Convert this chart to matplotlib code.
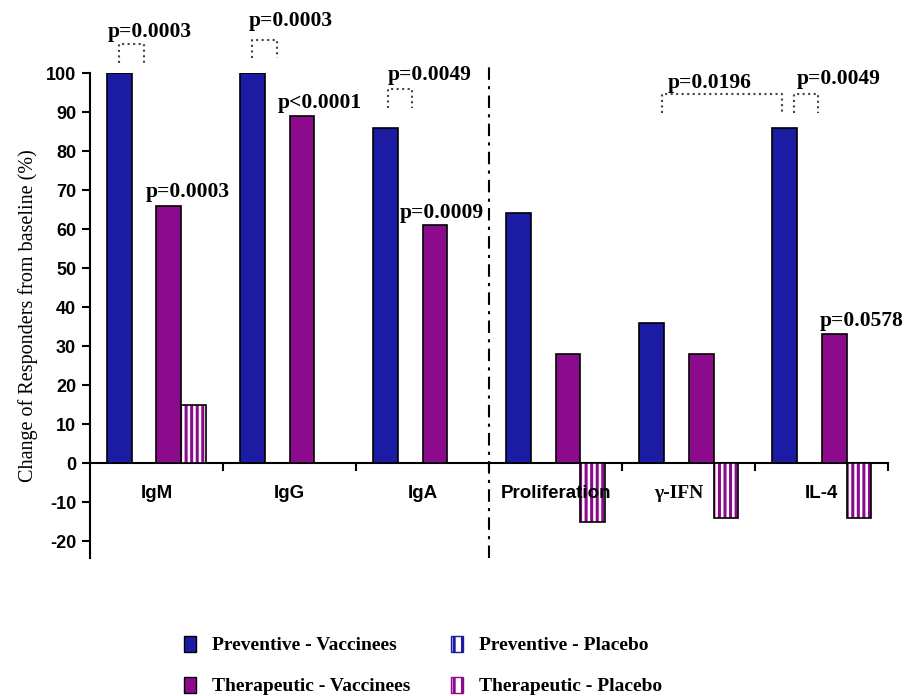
import matplotlib
matplotlib.use("Agg")
import matplotlib.pyplot as plt
from matplotlib.patches import Patch
import numpy as np

categories = ["IgM", "IgG", "IgA", "Proliferation", "γ-IFN", "IL-4"]
preventive_vaccinees = [100, 100, 86, 64, 36, 86]
preventive_placebo = [0, 0, 0, 0, 0, 0]
therapeutic_vaccinees = [66, 89, 61, 28, 28, 33]
therapeutic_placebo = [15, 0, 0, -15, -14, -14]
series_labels = ["Preventive - Vaccinees", "Preventive - Placebo",
                 "Therapeutic - Vaccinees", "Therapeutic - Placebo"]
yticks = list(range(-20, 101, 10))

# p-value annotations: text, text x, text y, bracket (x0, x1, top, bottom) or None
annotations = [
    ("p=0.0003", -0.05, 110.5, (-0.28, -0.094, 107.4, 102.6)),
    ("p=0.0003", 0.237, 69.5, None),
    ("p=0.0003", 1.01, 113.3, (0.72, 0.906, 108.5, 103.8)),
    ("p<0.0001", 1.23, 92.3, None),
    ("p=0.0049", 2.056, 99.5, (1.74, 1.92, 95.9, 91.0)),
    ("p=0.0009", 2.147, 64.1, None),
    ("p=0.0196", 4.16, 97.4, (3.80, 4.70, 94.6, 89.7)),
    ("p=0.0049", 5.13, 98.5, (4.79, 4.97, 94.6, 89.7)),
    ("p=0.0578", 5.30, 36.4, None),
]

BLUE = "#1b1ba3"
PURPLE = "#8c0a8c"
SERIF = "Liberation Serif"
SANS = "Liberation Sans"
plt.rcParams["hatch.linewidth"] = 2.2

fig = plt.figure(figsize=(9.09, 6.96), dpi=100)
ax = fig.add_axes([0.099, 0.198, 0.878, 0.697])

x = np.arange(len(categories))
w = 0.1875
offs = [(k - 1.5) * w for k in range(4)]

ax.bar(x + offs[0], preventive_vaccinees, w, color=BLUE, edgecolor="black", lw=1.2, zorder=3)
ax.bar(x + offs[1], preventive_placebo, w, color="white", edgecolor=BLUE, hatch="|||", lw=0, zorder=3)
ax.bar(x + offs[2], therapeutic_vaccinees, w, color=PURPLE, edgecolor="black", lw=1.2, zorder=3)
ax.bar(x + offs[3], therapeutic_placebo, w, color="white", edgecolor=PURPLE, hatch="|||", lw=0, zorder=3)
ax.bar(x + offs[3], therapeutic_placebo, w, fill=False, edgecolor="black", lw=1.2, zorder=4)

ax.set_xlim(-0.5, 5.5)
ax.set_ylim(-24.4, 100)
for s in ["top", "right"]:
    ax.spines[s].set_visible(False)
ax.spines["bottom"].set_position(("data", 0))
ax.spines["bottom"].set_linewidth(1.5)
ax.spines["left"].set_linewidth(1.5)

ax.set_xticks(np.arange(0.5, 5.6, 1.0))
ax.set_xticklabels([])
ax.tick_params(axis="x", which="major", direction="out", length=6, width=1.5)
ax.set_yticks(yticks)
ax.set_yticklabels([str(v) for v in yticks], fontfamily=SANS, fontweight="bold", fontsize=13)
ax.tick_params(axis="y", direction="out", length=6, width=1.5, pad=4)

for i, c in enumerate(categories):
    if c.startswith("γ"):
        ax.text(i - 0.07, -7.7, c, ha="center", va="center", fontfamily=SERIF,
                fontweight="bold", fontsize=14)
    else:
        ax.text(i, -7.7, c, ha="center", va="center", fontfamily=SANS,
                fontweight="bold", fontsize=13.5)

ax.set_ylabel("Change of Responders from baseline (%)", fontfamily=SERIF, fontsize=14.5, labelpad=6)

# dash-dot separator
ax.plot([2.5, 2.5], [-24.4, 102], color="black", lw=1.5,
        linestyle=(0, (6, 3, 1.5, 3)), clip_on=False, zorder=5)

for txt, tx, ty, br in annotations:
    ax.text(tx, ty, txt, ha="center", va="center", fontfamily=SERIF,
            fontweight="bold", fontsize=15.5, clip_on=False, zorder=6)
    if br is not None:
        x0, x1, top, bot = br
        ax.plot([x0, x0, x1, x1], [bot, top, top, bot], color="#444444", lw=1.5,
                linestyle=":", clip_on=False, zorder=6)

handles = [
    Patch(facecolor=BLUE, edgecolor="black", label=series_labels[0]),
    Patch(facecolor=PURPLE, edgecolor="black", label=series_labels[2]),
    Patch(facecolor="white", edgecolor=BLUE, hatch="||", label=series_labels[1]),
    Patch(facecolor="white", edgecolor=PURPLE, hatch="||", label=series_labels[3]),
]
fig.legend(handles=handles, ncol=2, loc="upper left", bbox_to_anchor=(0.183, 0.112),
           frameon=False, handlelength=0.6, handleheight=0.9, handletextpad=0.85,
           columnspacing=2.1, labelspacing=1.15,
           prop={"family": SERIF, "weight": "bold", "size": 14})

fig.savefig("out.png", dpi=100)
